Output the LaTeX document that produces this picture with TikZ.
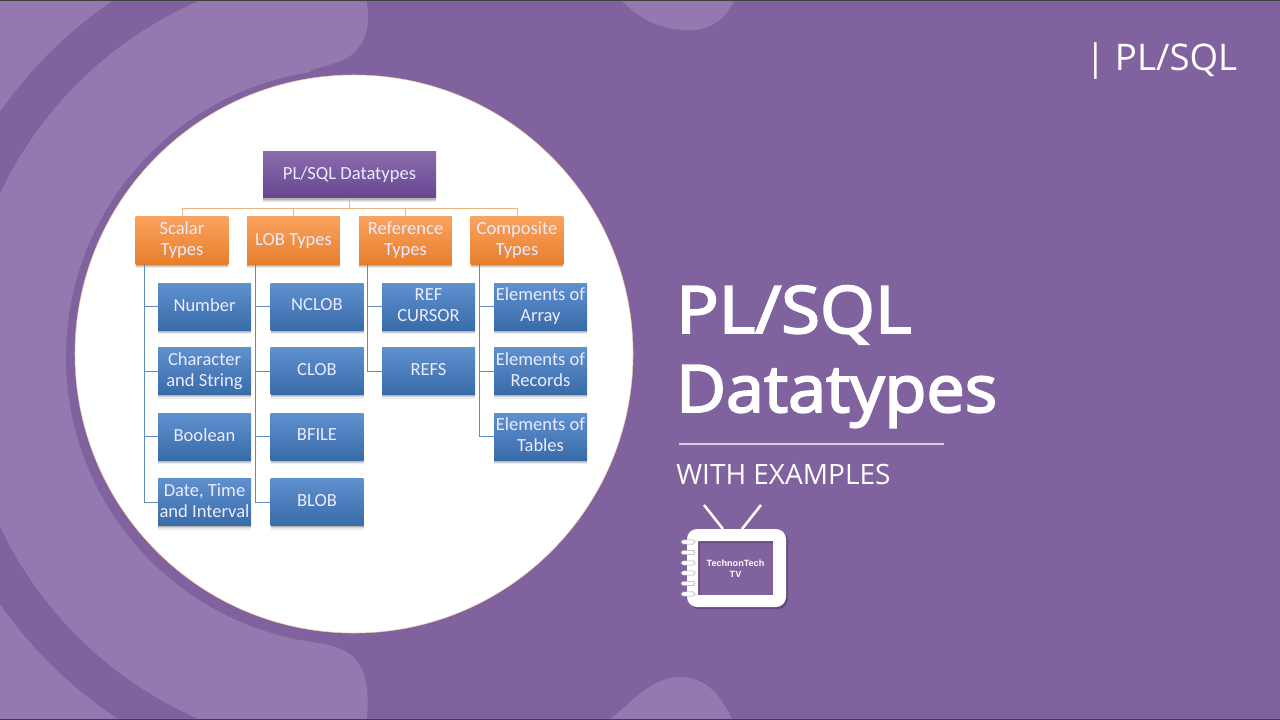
\documentclass[tikz,border=0pt]{standalone}
\usepackage{fontspec}
\setmainfont{Carlito}
\newfontfamily\ttlfont{Open Sans}
\newfontfamily\ttlfirst{Open Sans}[FakeBold=3,FakeStretch=1.08]
\newfontfamily\ttlsecond{Open Sans}[FakeBold=3,FakeStretch=1.045]
\newfontfamily\tvfont{Liberation Sans}
\usetikzlibrary{shadows}
\definecolor{bgpurple}{HTML}{80629F}
\definecolor{lightpurple}{HTML}{9379B0}
\definecolor{bluelink}{HTML}{5F8BBF}
\definecolor{orangelink}{HTML}{E9B583}
\tikzset{
  boxbase/.style={rectangle,inner sep=0pt,align=center,text=white!92!blue,
    font=\fontsize{13.9pt}{15.7pt}\selectfont,
    general shadow={fill=black,opacity=.08,shadow xshift=0pt,shadow yshift=-3.2pt},
    general shadow={fill=black,opacity=.10,shadow xshift=0pt,shadow yshift=-2.2pt},
    general shadow={fill=black,opacity=.14,shadow xshift=0pt,shadow yshift=-1.2pt}},
  rootbox/.style={boxbase,minimum width=129.75pt,minimum height=34.5pt,
    top color=HTMLpa,middle color=HTMLpb,bottom color=HTMLpc},
  orangebox/.style={boxbase,minimum width=69.5pt,minimum height=35.25pt,
    top color=HTMLoa,middle color=HTMLob,bottom color=HTMLoc},
  bluebox/.style={boxbase,text depth=2.6pt,minimum width=69.75pt,minimum height=35.25pt,
    top color=HTMLba,middle color=HTMLbb,bottom color=HTMLbc},
  orangeline/.style={draw=orangelink,line width=0.75pt},
  blueline/.style={draw=bluelink,line width=0.75pt},
  titletext/.style={anchor=base west,inner sep=0pt,text=white},
  pill/.style={draw=gray!70,fill=white,line width=0.4pt,rounded corners=1.4pt}
}
\definecolor{HTMLpa}{HTML}{8A6CAC}
\definecolor{HTMLpb}{HTML}{7B5CA1}
\definecolor{HTMLpc}{HTML}{674691}
\definecolor{HTMLoa}{HTML}{FAA25E}
\definecolor{HTMLob}{HTML}{F6954A}
\definecolor{HTMLoc}{HTML}{E67F2C}
\definecolor{HTMLba}{HTML}{5F90CF}
\definecolor{HTMLbb}{HTML}{4C80C2}
\definecolor{HTMLbc}{HTML}{3A6BA9}
\begin{document}
\begin{tikzpicture}[x=0.75pt,y=-0.75pt]
\useasboundingbox (0,0) rectangle (1280,720);
\clip (0,0) rectangle (1280,720);
\fill[bgpurple] (0,0) rectangle (1280,720);
% outer corners and dark ring
\fill[lightpurple] (0,0) rectangle (354,720);
\fill[bgpurple] (354,358) circle (431);
% inner light band
\begin{scope}
\clip (354,360) circle (391);
\fill[lightpurple] (-50,-10) -- (366,-10) -- (366,0)
  .. controls (372,25) and (365,50) .. (343,60)
  .. controls (333,64) and (325,66) .. (312,70)
  -- (305,76) -- (305,630) -- (300,638)
  .. controls (320,643) and (333,645) .. (345,651)
  .. controls (362,660) and (372,680) .. (366,725)
  -- (-50,730) -- cycle;
\end{scope}
% lobes
\fill[lightpurple] (618,-2) .. controls (635,12) and (650,30) .. (690,30)
  .. controls (715,30) and (728,15) .. (735,-2) -- cycle;
\fill[lightpurple] (606,722) .. controls (630,705) and (650,677) .. (680,677)
  .. controls (705,677) and (722,695) .. (733,722) -- cycle;
% white disc
\fill[bgpurple] (354,357) circle (288);
\fill[white] (354,354) circle (279);
\draw[draw=orangelink!70!white,line width=0.4pt] (354,354) circle (279);
% screen edge lines
\fill[black!75] (0,0) rectangle (1280,1);
\fill[black!75] (0,719) rectangle (1280,720);
% diagram
\node[rootbox] (root) at (349.5,175) {PL/SQL Datatypes};
\node[orangebox] (scalar) at (182,240.5) {Scalar\\Types};
\node[orangebox] (lob) at (293.5,240.5) {LOB Types};
\node[orangebox] (ref) at (405.5,240.5) {Reference\\Types};
\node[orangebox] (comp) at (517,240.5) {Composite\\Types};
\node[bluebox] (number) at (204.5,306.5) {Number};
\node[bluebox] (character) at (204.5,371) {Character\\and String};
\node[bluebox] (boolean) at (204.5,436.5) {Boolean};
\node[bluebox] (date) at (204.5,502) {Date, Time\\and Interval};
\node[bluebox] (nclob) at (317,306.5) {NCLOB};
\node[bluebox] (clob) at (317,371) {CLOB};
\node[bluebox] (bfile) at (317,436.5) {BFILE};
\node[bluebox] (blob) at (317,502) {BLOB};
\node[bluebox] (refcursor) at (428.5,306.5) {REF\\CURSOR};
\node[bluebox] (refs) at (428.5,371) {REFS};
\node[bluebox] (array) at (540.5,306.5) {Elements of\\Array};
\node[bluebox] (records) at (540.5,371) {Elements of\\Records};
\node[bluebox] (tables) at (540.5,436.5) {Elements of\\Tables};
\foreach \t in {scalar,lob,ref,comp}
  \draw[orangeline] (root.south) -- ++(0,10.5) -| (\t.north);
\foreach \p/\c in {scalar/number,scalar/character,scalar/boolean,scalar/date,
  lob/nclob,lob/clob,lob/bfile,lob/blob,ref/refcursor,ref/refs,
  comp/array,comp/records,comp/tables}
  \draw[blueline] ([xshift=6.8pt]\p.south west) |- (\c.west);
% title block
\node[titletext,font=\ttlfirst\fontsize{49pt}{52pt}\selectfont] (t1) at (676,333) {PL/SQL};
\node[titletext,font=\ttlsecond\fontsize{49pt}{52pt}\selectfont] (t2) at (676,412) {Datatypes};
\coordinate (ruleA) at (679,444);
\coordinate (ruleB) at (944,444);
\draw[draw=white!70!bgpurple,line width=0.8pt] (ruleA) -- (ruleB);
\node[anchor=base west,inner sep=0pt,text=white,font=\ttlfont\fontsize{21pt}{23pt}\selectfont] (t3) at (676,484) {WITH EXAMPLES};
\node[anchor=base west,inner sep=0pt,text=white,font=\ttlfont\fontsize{27.5pt}{29pt}\selectfont] (t4) at (1085,71) {| PL/SQL};
% TV icon
\fill[black,opacity=.22,even odd rule,rounded corners=7.5pt] (689,531) rectangle (788,609)
   [rounded corners=0pt] (700,543) rectangle (775,597);
\fill[white,even odd rule,rounded corners=7.5pt] (687,529) rectangle (786,607)
   [rounded corners=0pt] (698,541) rectangle (773,595);
\draw[white,line width=1.9pt] (704,505) -- (723,529);
\draw[white,line width=1.9pt] (761,505) -- (742,529);
\foreach \y in {542,552.5,563,573,583.5,594}
  \draw[pill] (681,\y-2.2) rectangle (695,\y+2.2);
\node[inner sep=0pt,align=center,text=white,font=\tvfont\bfseries\fontsize{6.8pt}{8pt}\selectfont] (tvtext) at (735.5,568.5) {TechnonTech\\TV};
\end{tikzpicture}
\end{document}
